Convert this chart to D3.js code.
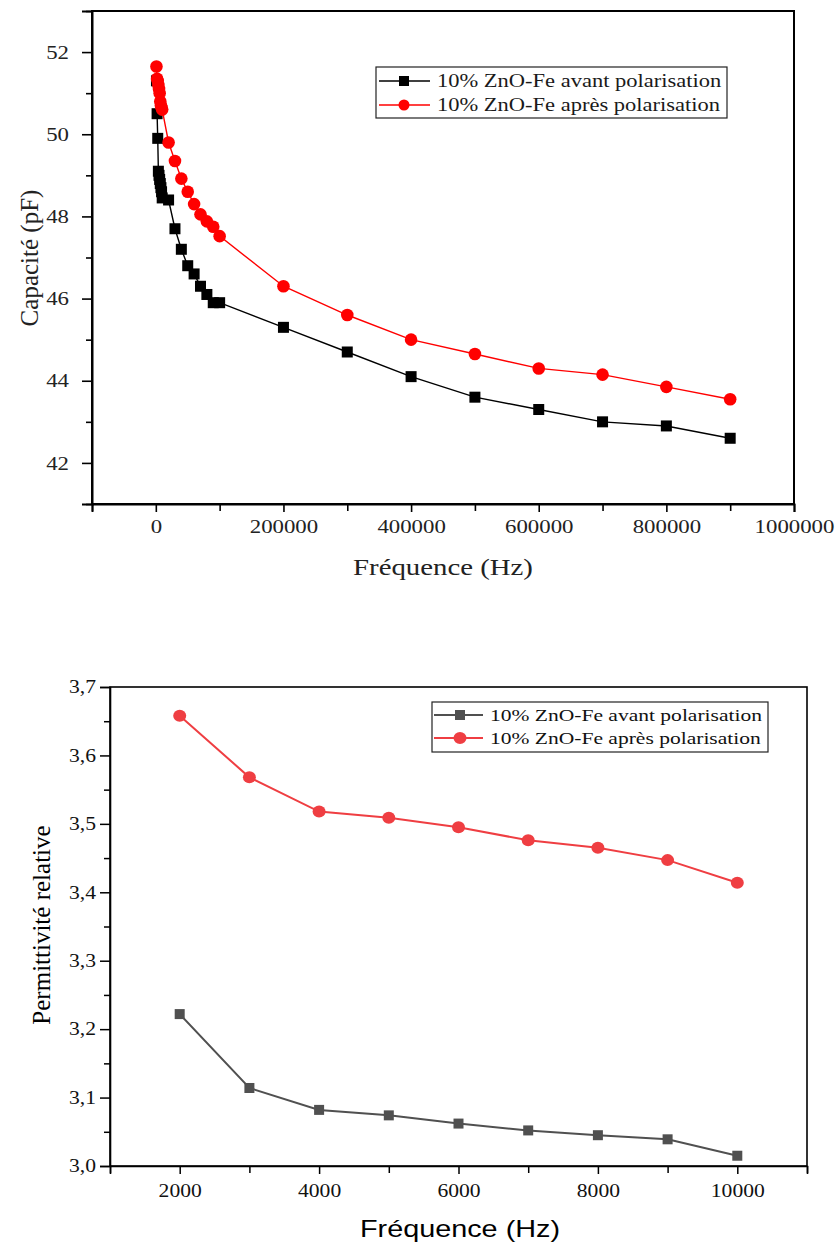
<!DOCTYPE html>
<meta charset="utf-8">
<style>
body { margin: 0; background: #fff; }
svg { display: block; }
</style>
<body>
<script src="https://cdn.jsdelivr.net/npm/d3@7"></script>
<script>

// ---- data: top chart (capacité vs fréquence)
var freqTop = [1000, 2000, 3000, 4000, 5000, 6000, 7000, 8000, 9000, 10000,
               20000, 30000, 40000, 50000, 60000, 70000, 80000, 90000, 100000,
               200000, 300000, 400000, 500000, 600000, 700000, 800000, 900000];
var capAvant = [51.3, 50.5, 49.9, 49.1, 49.0, 48.9, 48.8, 48.7, 48.6, 48.45,
                48.4, 47.7, 47.2, 46.8, 46.6, 46.3, 46.1, 45.9, 45.9,
                45.3, 44.7, 44.1, 43.6, 43.3, 43.0, 42.9, 42.6];
var capApres = [51.65, 51.35, 51.3, 51.2, 51.1, 51.0, 50.8, 50.7, 50.65, 50.6,
                49.8, 49.35, 48.92, 48.6, 48.3, 48.05, 47.88, 47.75, 47.52,
                46.3, 45.6, 45.0, 44.65, 44.3, 44.15, 43.85, 43.55];
var topXTicks = [0, 200000, 400000, 600000, 800000, 1000000];
var topXMinor = [-100000, 100000, 300000, 500000, 700000, 900000];
var topYTicks = [42, 44, 46, 48, 50, 52];
var topYMinor = [41, 43, 45, 47, 49, 51, 53];

// ---- data: bottom chart (permittivité relative vs fréquence)
var freqBottom = [2000, 3000, 4000, 5000, 6000, 7000, 8000, 9000, 10000];
var permAvant = [3.222, 3.114, 3.082, 3.074, 3.062, 3.052, 3.045, 3.039, 3.015];
var permApres = [3.658, 3.568, 3.518, 3.509, 3.495, 3.476, 3.465, 3.447, 3.414];
var botXTicks = [2000, 4000, 6000, 8000, 10000];
var botXMinor = [1000, 3000, 5000, 7000, 9000, 11000];
var botYTicks = [3.0, 3.1, 3.2, 3.3, 3.4, 3.5, 3.6, 3.7];
var botYMinor = [3.05, 3.15, 3.25, 3.35, 3.45, 3.55, 3.65];

var seriesNames = ["10% ZnO-Fe avant polarisation", "10% ZnO-Fe après polarisation"];

var SERIF = '"Liberation Serif", "Times New Roman", Times, serif';
var SANS = '"Liberation Sans", Arial, Helvetica, sans-serif';
var SX = 1.2; // the picture is a bit wider than tall, stretch text sideways

var svg = d3.select("body").append("svg")
    .attr("width", 837)
    .attr("height", 1243);

function stretch(sel, k) {
  sel.each(function() {
    var l = this.getComputedTextLength();
    this.setAttribute("textLength", l * k);
    this.setAttribute("lengthAdjust", "spacingAndGlyphs");
  });
}

// ================= top chart =================
var x1 = d3.scaleLinear().domain([-100000, 1000000]).range([92, 794]);
var y1 = d3.scaleLinear().domain([41, 53]).range([504, 11]);

var g1 = svg.append("g");

g1.append("rect")
    .attr("x", x1.range()[0]).attr("y", y1.range()[1])
    .attr("width", x1.range()[1] - x1.range()[0])
    .attr("height", y1.range()[0] - y1.range()[1])
    .attr("fill", "none").attr("stroke", "#000").attr("stroke-width", 2);

g1.append("g").attr("transform", "translate(0," + y1.range()[0] + ")")
    .call(d3.axisBottom(x1).tickValues(topXTicks).tickSize(8).tickPadding(8).tickFormat(d3.format("d")));
g1.append("g").attr("transform", "translate(0," + y1.range()[0] + ")")
    .call(d3.axisBottom(x1).tickValues(topXMinor).tickSize(7).tickFormat(""))
    .select(".domain").remove();
g1.append("g").attr("transform", "translate(" + x1.range()[0] + ",0)")
    .call(d3.axisLeft(y1).tickValues(topYTicks).tickSize(10).tickPadding(13).tickFormat(d3.format("d")));
g1.append("g").attr("transform", "translate(" + x1.range()[0] + ",0)")
    .call(d3.axisLeft(y1).tickValues(topYMinor).tickSize(6).tickFormat(""))
    .select(".domain").remove();

g1.selectAll(".domain").attr("stroke-width", 2);
g1.selectAll(".tick line").attr("stroke-width", 1.6);
g1.selectAll(".tick text")
    .style("font-family", SERIF).style("font-size", "19px").attr("fill", "#222");
stretch(g1.selectAll(".tick text"), SX);

g1.append("text")
    .attr("x", 443).attr("y", 575)
    .attr("text-anchor", "middle").attr("fill", "#222")
    .style("font-family", SERIF).style("font-size", "24px")
    .text("Fréquence (Hz)")
    .call(stretch, SX);
g1.append("text")
    .attr("transform", "translate(38,258) rotate(-90)")
    .attr("text-anchor", "middle").attr("fill", "#222")
    .style("font-family", SERIF).style("font-size", "25px")
    .text("Capacité (pF)");

var line1 = d3.line().x(function(d) { return x1(d[0]); }).y(function(d) { return y1(d[1]); });
var topSeries = [
  {vals: capAvant, color: "#000", shape: "square"},
  {vals: capApres, color: "#ff0000", shape: "circle"}
];
topSeries.forEach(function(s) {
  var pts = d3.zip(freqTop, s.vals);
  g1.append("path").datum(pts)
      .attr("d", line1).attr("fill", "none")
      .attr("stroke", s.color).attr("stroke-width", 1.4);
  if (s.shape === "square") {
    g1.selectAll(null).data(pts).enter().append("rect")
        .attr("x", function(d) { return x1(d[0]) - 5.5; })
        .attr("y", function(d) { return y1(d[1]) - 5.5; })
        .attr("width", 11).attr("height", 11).attr("fill", s.color);
  } else {
    g1.selectAll(null).data(pts).enter().append("circle")
        .attr("cx", function(d) { return x1(d[0]); })
        .attr("cy", function(d) { return y1(d[1]); })
        .attr("r", 6.3).attr("fill", s.color);
  }
});

// legend top
var lg1 = g1.append("g");
lg1.append("rect").attr("x", 376).attr("y", 67).attr("width", 351).attr("height", 51)
    .attr("fill", "#fff").attr("stroke", "#222").attr("stroke-width", 1.2);
topSeries.forEach(function(s, i) {
  var yy = 81 + i * 24;
  lg1.append("line").attr("x1", 379).attr("x2", 430).attr("y1", yy).attr("y2", yy)
      .attr("stroke", s.color).attr("stroke-width", 1.5);
  if (s.shape === "square") {
    lg1.append("rect").attr("x", 399).attr("y", yy - 5).attr("width", 10).attr("height", 10).attr("fill", s.color);
  } else {
    lg1.append("circle").attr("cx", 404).attr("cy", yy).attr("r", 5.5).attr("fill", s.color);
  }
  lg1.append("text").attr("x", 437).attr("y", yy + 6)
      .attr("fill", "#1a1a1a")
      .style("font-family", SERIF).style("font-size", "18px")
      .text(seriesNames[i])
      .call(stretch, 1.25);
});

// ================= bottom chart =================
var x2 = d3.scaleLinear().domain([1000, 11000]).range([110, 807]);
var y2 = d3.scaleLinear().domain([3.0, 3.7]).range([1166, 687]);
var comma = function(d) { return d3.format(".1f")(d).replace(".", ","); };

var g2 = svg.append("g");

g2.append("rect")
    .attr("x", x2.range()[0]).attr("y", y2.range()[1])
    .attr("width", x2.range()[1] - x2.range()[0])
    .attr("height", y2.range()[0] - y2.range()[1])
    .attr("fill", "none").attr("stroke", "#000").attr("stroke-width", 1.6);

g2.append("g").attr("transform", "translate(0," + y2.range()[0] + ")")
    .call(d3.axisBottom(x2).tickValues(botXTicks).tickSize(8).tickPadding(10).tickFormat(d3.format("d")));
g2.append("g").attr("transform", "translate(0," + y2.range()[0] + ")")
    .call(d3.axisBottom(x2).tickValues(botXMinor).tickSize(7).tickFormat(""))
    .select(".domain").remove();
g2.append("g").attr("transform", "translate(" + x2.range()[0] + ",0)")
    .call(d3.axisLeft(y2).tickValues(botYTicks).tickSize(10).tickPadding(4).tickFormat(comma));
g2.append("g").attr("transform", "translate(" + x2.range()[0] + ",0)")
    .call(d3.axisLeft(y2).tickValues(botYMinor).tickSize(6).tickFormat(""))
    .select(".domain").remove();

g2.selectAll(".domain").attr("stroke-width", 1.6);
g2.selectAll(".tick line").attr("stroke-width", 1.5);
g2.selectAll(".tick text")
    .style("font-family", SERIF).style("font-size", "18px").attr("fill", "#111");
stretch(g2.selectAll(".tick text"), SX);

g2.append("text")
    .attr("x", 460).attr("y", 1237)
    .attr("text-anchor", "middle").attr("fill", "#000")
    .style("font-family", SANS).style("font-size", "24px")
    .text("Fréquence (Hz)")
    .call(stretch, SX);
g2.append("text")
    .attr("transform", "translate(50,925) rotate(-90)")
    .attr("text-anchor", "middle").attr("fill", "#000")
    .style("font-family", SERIF).style("font-size", "25px")
    .text("Permittivité relative");

var line2 = d3.line().x(function(d) { return x2(d[0]); }).y(function(d) { return y2(d[1]); });
var botSeries = [
  {vals: permAvant, color: "#505050", shape: "square"},
  {vals: permApres, color: "#ef3e42", shape: "circle"}
];
botSeries.forEach(function(s) {
  var pts = d3.zip(freqBottom, s.vals);
  g2.append("path").datum(pts)
      .attr("d", line2).attr("fill", "none")
      .attr("stroke", s.color).attr("stroke-width", 2);
  if (s.shape === "square") {
    g2.selectAll(null).data(pts).enter().append("rect")
        .attr("x", function(d) { return x2(d[0]) - 5; })
        .attr("y", function(d) { return y2(d[1]) - 5; })
        .attr("width", 10).attr("height", 10).attr("fill", s.color);
  } else {
    g2.selectAll(null).data(pts).enter().append("ellipse")
        .attr("cx", function(d) { return x2(d[0]); })
        .attr("cy", function(d) { return y2(d[1]); })
        .attr("rx", 6.5).attr("ry", 6).attr("fill", s.color);
  }
});

// legend bottom
var lg2 = g2.append("g");
lg2.append("rect").attr("x", 432).attr("y", 702).attr("width", 336).attr("height", 50)
    .attr("fill", "#fff").attr("stroke", "#222").attr("stroke-width", 1.2);
botSeries.forEach(function(s, i) {
  var yy = 715 + i * 23;
  lg2.append("line").attr("x1", 434).attr("x2", 483).attr("y1", yy).attr("y2", yy)
      .attr("stroke", s.color).attr("stroke-width", 2);
  if (s.shape === "square") {
    lg2.append("rect").attr("x", 455).attr("y", yy - 5).attr("width", 10).attr("height", 10).attr("fill", s.color);
  } else {
    lg2.append("ellipse").attr("cx", 460).attr("cy", yy).attr("rx", 6.5).attr("ry", 6).attr("fill", s.color);
  }
  lg2.append("text").attr("x", 490).attr("y", yy + 6)
      .attr("fill", "#111")
      .style("font-family", SERIF).style("font-size", "17.5px")
      .text(seriesNames[i])
      .call(stretch, 1.23);
});

</script>
</body>
